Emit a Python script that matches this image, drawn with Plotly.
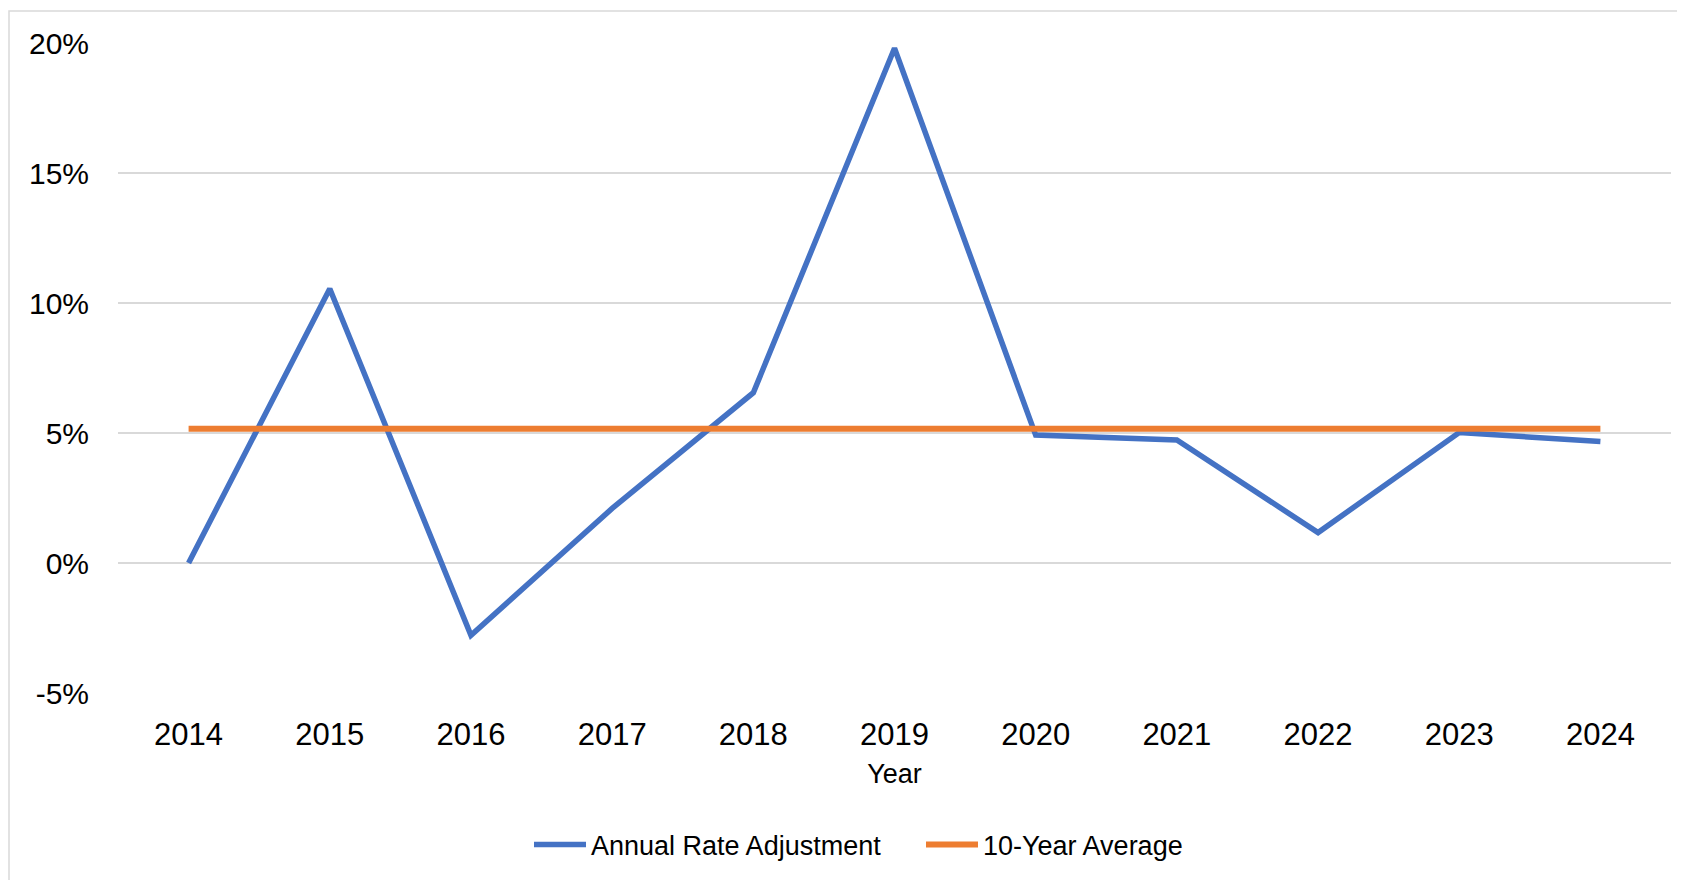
import plotly.graph_objects as go

years = [2014, 2015, 2016, 2017, 2018, 2019, 2020, 2021, 2022, 2023, 2024]
annual_rate_adjustment = [0.0, 10.55, -2.78, 2.1, 6.55, 19.8, 4.92, 4.73, 1.17, 5.02, 4.67]
ten_year_average = [5.16, 5.16, 5.16, 5.16, 5.16, 5.16, 5.16, 5.16, 5.16, 5.16, 5.16]
y_ticks = [-5, 0, 5, 10, 15, 20]

OFF = 8  # browser body margin
W, H = 1685 - OFF, 880 - OFF
L, R, T, B = 118 - OFF, 1671 - OFF, 43 - OFF, 694 - OFF

def px_x(p):
    return (p - OFF - L) / (R - L)

def px_y(p):
    return (B - (p - OFF)) / (B - T)

FONT = "Liberation Sans, Arial, sans-serif"

fig = go.Figure()
fig.add_trace(go.Scatter(
    x=years, y=annual_rate_adjustment, mode="lines", name="Annual Rate Adjustment",
    line=dict(color="#4472C4", width=5.5),
))
fig.add_trace(go.Scatter(
    x=years, y=ten_year_average, mode="lines", name="10-Year Average",
    line=dict(color="#ED7D31", width=6),
))

fig.update_layout(
    width=W, height=H,
    margin=dict(l=L, r=W - R, t=T, b=H - B, pad=0),
    paper_bgcolor="white", plot_bgcolor="white",
    font=dict(family=FONT, color="#000000"),
    showlegend=True,
    legend=dict(
        orientation="h", x=px_x(529), xanchor="left", y=px_y(845), yanchor="middle",
        font=dict(size=27, family=FONT, color="#000000"),
        itemwidth=52, entrywidth=325, bgcolor="rgba(0,0,0,0)",
    ),
    xaxis=dict(
        range=[2013.5, 2024.5], tickmode="array", tickvals=years,
        ticktext=[str(y) for y in years], showgrid=False, zeroline=False,
        showline=False, ticks="", tickfont=dict(size=31, family=FONT, color="#000000"),
        title=dict(text="Year", font=dict(size=27, family=FONT, color="#000000"), standoff=13),
        ticklabelstandoff=20,
    ),
    yaxis=dict(
        range=[-5, 20], tickmode="array", tickvals=y_ticks,
        ticktext=[f"{v}%" for v in y_ticks], showgrid=True, gridcolor="#d9d9d9", gridwidth=1.5,
        zeroline=False, showline=False, ticks="",
        tickfont=dict(size=30, family=FONT, color="#000000"),
        ticklabelstandoff=28,
    ),
    shapes=[dict(
        type="rect", xref="paper", yref="paper",
        x0=px_x(9), x1=px_x(1720), y0=px_y(11), y1=px_y(920),
        line=dict(color="#d9d9d9", width=1.5), fillcolor="rgba(0,0,0,0)", layer="below",
    )],
)

fig.write_html("out.html")
